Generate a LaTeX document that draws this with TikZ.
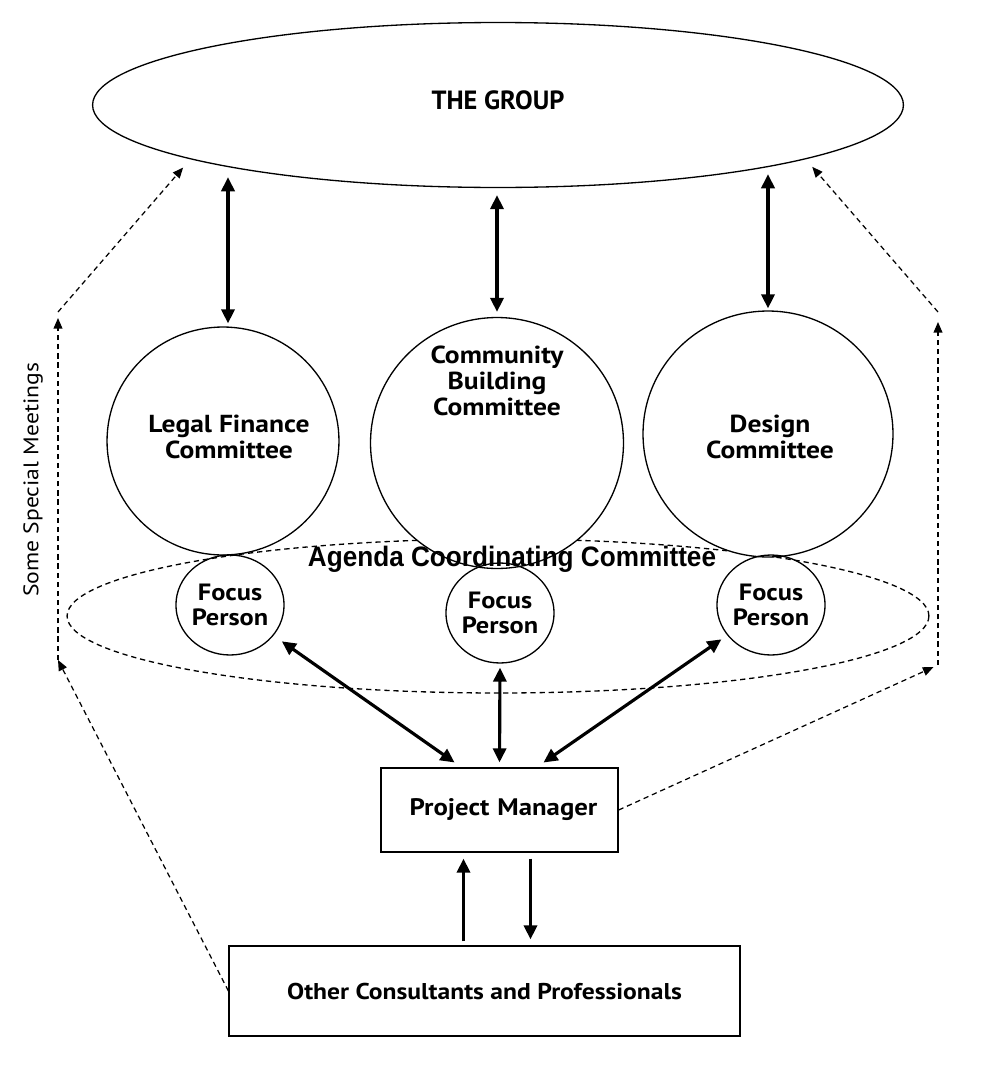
\documentclass[tikz,border=0pt]{standalone}
\usepackage{fontspec}
\setmainfont{PT Sans}
\newfontfamily\lblfont{PT Sans}[FakeStretch=1.12]
\newfontfamily\arialfont{Liberation Sans}[FakeStretch=0.93]
\usetikzlibrary{shapes.geometric,arrows.meta,calc}
\begin{document}
\begin{tikzpicture}[x=0.02cm,y=-0.02cm,
  thinline/.style={line width=0.75pt},
  bigarrow/.style={line width=1.8pt,{Triangle[length=8pt,width=7.5pt]}-{Triangle[length=8pt,width=7.5pt]}},
  onearrow/.style={line width=1.8pt,-{Triangle[length=8pt,width=7.5pt]}},
  dasharrow/.style={line width=0.7pt,dash pattern=on 3pt off 2.2pt,-{Triangle[length=6pt,width=5pt]}},
  bigcirc/.style={ellipse,draw,thinline,fill=white,inner sep=0pt},
  focus/.style={ellipse,draw,thinline,inner sep=0pt,minimum width=2.12cm,minimum height=2cm,align=center,
    font=\lblfont\bfseries\fontsize{13.4}{14.4}\selectfont},
  lbl/.style={align=center,font=\lblfont\bfseries\fontsize{14}{14.6}\selectfont},
  boxnode/.style={draw,thinline,inner sep=0pt,font=\lblfont\bfseries\fontsize{13.6}{15}\selectfont}
]
\useasboundingbox (0,0) rectangle (987,1072);
\fill[white] (0,0) rectangle (987,1072);

% dashed agenda ellipse
\node[ellipse,draw,thinline,dash pattern=on 3pt off 2.2pt,minimum width=17.24cm,minimum height=3.08cm,inner sep=0pt] (acc) at (498,616) {};

% the group
\node[ellipse,draw,thinline,minimum width=16.22cm,minimum height=3.3cm,inner sep=0pt] (group) at (498,105) {};
\node[font=\bfseries\fontsize{15}{17}\selectfont] (grouplbl) at (498,100) {THE GROUP};

% committees
\node[bigcirc,minimum width=4.64cm,minimum height=4.56cm] (legal) at (223,441) {};
\node[bigcirc,minimum width=5.06cm,minimum height=5.02cm] (comm) at (497,443) {};
\node[bigcirc,minimum width=5.0cm,minimum height=4.92cm] (design) at (768,434) {};
\node[lbl] (legallbl) at (229,437) {Legal Finance\\Committee};
\node[lbl,font=\lblfont\bfseries\fontsize{14}{14.8}\selectfont] (commlbl) at (497,381) {Community\\Building\\Committee};
\node[lbl,font=\lblfont\bfseries\fontsize{14}{14.8}\selectfont] (designlbl) at (770,437) {Design\\Committee};

% focus persons
\node[focus] (fp1) at (230,605) {Focus\\Person};
\node[focus] (fp2) at (500,613) {Focus\\Person};
\node[focus] (fp3) at (771,605) {Focus\\Person};

\node[anchor=base,font=\arialfont\bfseries\fontsize{16}{18}\selectfont] (acclbl) at (512,566) {Agenda Coordinating Committee};

% boxes
\node[boxnode,minimum width=4.74cm,minimum height=1.68cm,text width=4.74cm,align=center] (pm) at (499.5,810) {\hspace*{0.16cm}Project Manager};
\node[boxnode,font=\lblfont\bfseries\fontsize{13}{15}\selectfont,minimum width=10.22cm,minimum height=1.8cm] (others) at (484.5,991) {Other Consultants and Professionals};

% side label
\node[rotate=90,font=\lblfont\fontsize{12}{14}\selectfont] (ssm) at (33,480) {Some Special Meetings};

% group <-> committees
\draw[bigarrow,shorten <=0.2cm,shorten >=0.06cm] ($(legal.north |- group.193)+(5,0)$) -- ($(legal.north)+(5,0)$);
\draw[bigarrow,shorten <=0.14cm,shorten >=0.1cm] (comm.north |- group.south) -- (comm.north);
\draw[bigarrow,shorten <=0.14cm,shorten >=0.04cm] (design.north |- group.347) -- (design.north);

% focus <-> project manager
\draw[bigarrow,shorten <=0.2cm,shorten >=0.17cm] (fp1) -- ($(pm.north)+(-38,0)$);
\draw[bigarrow,shorten <=0.08cm,shorten >=0.1cm] (fp2.south) -- (pm.north);
\draw[bigarrow,shorten <=0.14cm,shorten >=0.17cm] (fp3) -- ($(pm.north)+(37,0)$);

% project manager <-> others
\coordinate (u1) at ($(pm.south)+(-36,0)$);
\coordinate (d1) at ($(pm.south)+(31,0)$);
\draw[onearrow,shorten <=0.08cm,shorten >=0.12cm] (u1 |- others.north) -- (u1);
\draw[onearrow,shorten <=0.12cm,shorten >=0.12cm] (d1) -- (d1 |- others.north);

% special meetings (dashed)
\coordinate (lb) at (58,660);
\coordinate (lt) at (58,312);
\coordinate (rb) at (938,665);
\coordinate (rt) at (938,312);
\draw[dasharrow] (others.west) -- (lb);
\draw[dasharrow,shorten >=0.12cm] (lb) -- (lt);
\draw[dasharrow,shorten >=0.22cm] (lt) -- (group.190);
\draw[dasharrow,shorten >=0.1cm] (pm.east) -- (rb);
\draw[dasharrow,shorten >=0.2cm] (rb) -- (rt);
\draw[dasharrow,shorten >=0.2cm] (rt) -- (group.350);
\end{tikzpicture}
\end{document}
